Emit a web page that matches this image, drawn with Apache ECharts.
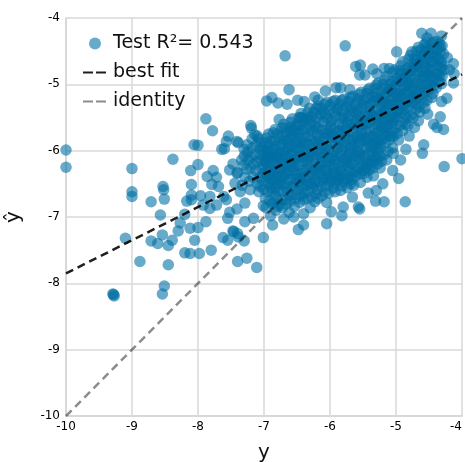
<!DOCTYPE html>
<html><head><meta charset="utf-8">
<style>html,body{margin:0;padding:0;background:#fff}#c{width:465px;height:462px}</style>
<script src="https://cdn.jsdelivr.net/npm/echarts@6/dist/echarts.min.js"></script>
</head><body><div id="c"></div>
<script>
const axisTicks = [-10,-9,-8,-7,-6,-5,-4];
const fitLine = [[-10,-7.85],[-4,-4.85]];
const identityLine = [[-10,-10],[-4,-4]];
const legendNames = ['Test R²= 0.543','best fit','identity'];
const sparsePoints = [
[-10,-5.99],[-10,-6.25],[-9,-6.27],[-9,-6.62],[-9,-6.69],[-8.53,-6.54],[-8.52,-6.59],[-8.51,-6.73],[-8.71,-6.77],[-8.57,-6.97],
[-8.38,-6.13],[-7.88,-5.52],[-7.78,-5.7],[-8.06,-5.91],[-8,-5.92],[-7.64,-5.98],[-7.6,-5.97],[-7.57,-5.86],[-7.54,-5.78],[-7.41,-5.86],
[-8,-6.21],[-8.11,-6.3],[-8.1,-6.51],[-7.86,-6.39],[-7.77,-6.3],[-7.72,-6.4],[-7.79,-6.51],[-7.69,-6.54],[-7.52,-6.29],[-7.47,-6.2],
[-7.4,-6.33],[-7.44,-6.49],[-8.17,-6.76],[-8.1,-6.74],[-8.1,-6.67],[-7.96,-6.68],[-7.82,-6.69],[-7.82,-6.87],[-7.92,-6.82],[-7.72,-6.82],
[-7.57,-6.74],[-7.61,-6.69],[-8.2,-6.96],[-8.27,-7.09],[-8.3,-7.21],[-8.12,-7.17],[-8,-7.16],[-7.88,-7.07],[-7.52,-6.93],[-7.55,-7.02],
[-7.41,-6.88],[-7.47,-7.21],[-7.4,-7.25],[-7.62,-7.31],[-9.1,-7.32],[-8.71,-7.36],[-8.61,-7.4],[-8.54,-7.27],[-8.45,-7.43],[-8.39,-7.35],
[-8.05,-7.35],[-8.2,-7.54],[-8.12,-7.55],[-7.98,-7.55],[-7.8,-7.5],[-8.88,-7.67],[-8.45,-7.72],[-7.4,-7.67],[-7.55,-7.35],[-8.51,-8.04],
[-8.54,-8.16],[-9.29,-8.16],[-9.27,-8.19],[-9.28,-8.17],[-7.11,-7.76],[-7.26,-7.62],[-7.3,-7.36],[-7.39,-7.3],
[-6.68,-4.57],[-5.77,-4.42],[-6.62,-5.08],[-6.07,-5.1],[-5.91,-5.05],[-5.84,-5.05],[-5.7,-5.08],[-6.96,-5.25],[-6.88,-5.2],[-6.79,-5.28],
[-6.65,-5.3],[-6.49,-5.24],[-6.23,-5.19],[-6.18,-5.24],[-6.39,-5.26],[-5.61,-4.73],[-5.54,-4.71],[-5.55,-4.86],[-5.47,-4.86],[-5.35,-4.77],
[-5.29,-4.84],[-5.18,-4.76],[-5.1,-4.76],[-4.99,-4.51],[-4.76,-4.51],[-4.61,-4.23],[-4.47,-4.23],[-4.31,-4.27],[-4.13,-4.69],[-4.19,-4.78],
[-4.13,-4.98],[-4.23,-5.21],[-4.31,-5.26],[-4.33,-5.49],[-4.43,-5.6],[-4.28,-5.68],[-4.38,-5.65],[-4.58,-5.91],[-4.6,-6.04],[-4.27,-6.24],
[-4,-6.12],[-4.86,-6.77],[-4.96,-6.42],[-4.93,-6.14],[-5.18,-6.77],[-5.31,-6.76],[-5.55,-6.88],[-5.57,-6.85],[-5.82,-6.98],[-5.8,-6.85],
[-5.98,-6.92],[-6.05,-7.1],[-6.05,-6.78],[-6.23,-6.77],[-6.4,-6.95],[-6.4,-7.12],[-6.48,-7.19],[-6.87,-7.12],[-7.01,-7.31],[-7.01,-6.83],
[-7.29,-6.79],[-7.29,-7.07],[-7.16,-7.02],[-7.46,-7.22],[-7.2,-5.62],[-7.19,-5.66],[-6.77,-5.53],[-7.39,-5.88],[-7.26,-5.91],[-7.14,-5.76],
[-7.31,-6.22],[-7.41,-6.34],[-7.21,-6.59],[-7.36,-6.62],[-7.29,-6.4],[-7.2,-6.1],[-7.12,-6.3],[-7.25,-6.02],[-7.33,-6.52],[-7.08,-6.62],
[-6.9,-6.98],[-6.82,-6.9],[-6.7,-7.03],[-6.62,-6.93],[-6.55,-7],[-6.3,-6.86],[-5.66,-6.7],[-5.42,-6.64],[-5.3,-6.6],[-5.2,-6.5],
[-5.05,-6.3],[-4.85,-5.98],[-4.8,-5.78],[-4.72,-5.65],[-4.66,-5.55],[-4.52,-5.45],[-4.12,-4.84],[-4.22,-4.6],[-4.37,-4.35],[-4.53,-4.3]
];
const densePoints = [
[-7.08,-5.82],[-7.02,-5.95],[-7.05,-6.06],[-6.98,-6.17],[-7.03,-6.28],[-6.97,-6.4],[-6.93,-5.75],[-6.9,-5.86],[-6.95,-6],[-6.89,-6.1],[-6.92,-6.24],[-6.88,-6.36],[-6.93,-6.5],[-6.87,-6.62],[-6.91,-6.75],
[-6.83,-5.68],[-6.78,-5.8],[-6.82,-5.92],[-6.77,-6.03],[-6.81,-6.15],[-6.76,-6.27],[-6.8,-6.39],[-6.75,-6.5],[-6.79,-6.62],[-6.74,-6.73],
[-6.7,-5.6],[-6.66,-5.72],[-6.69,-5.84],[-6.64,-5.96],[-6.68,-6.08],[-6.63,-6.2],[-6.67,-6.32],[-6.62,-6.44],[-6.66,-6.56],[-6.61,-6.68],
[-6.57,-5.52],[-6.53,-5.64],[-6.56,-5.76],[-6.51,-5.88],[-6.55,-6],[-6.5,-6.12],[-6.54,-6.24],[-6.49,-6.36],[-6.53,-6.48],[-6.48,-6.6],[-6.52,-6.72],
[-6.44,-5.44],[-6.4,-5.56],[-6.43,-5.68],[-6.38,-5.8],[-6.42,-5.92],[-6.37,-6.04],[-6.41,-6.16],[-6.36,-6.28],[-6.4,-6.4],[-6.35,-6.52],[-6.39,-6.64],
[-6.31,-5.36],[-6.27,-5.48],[-6.3,-5.6],[-6.25,-5.72],[-6.29,-5.84],[-6.24,-5.96],[-6.28,-6.08],[-6.23,-6.2],[-6.27,-6.32],[-6.22,-6.44],[-6.26,-6.56],[-6.21,-6.65],
[-6.18,-5.33],[-6.14,-5.45],[-6.17,-5.57],[-6.12,-5.69],[-6.16,-5.81],[-6.11,-5.93],[-6.15,-6.05],[-6.1,-6.17],[-6.14,-6.29],[-6.09,-6.41],[-6.13,-6.53],[-6.08,-6.62],
[-6.05,-5.27],[-6.01,-5.39],[-6.04,-5.51],[-5.99,-5.63],[-6.03,-5.75],[-5.98,-5.87],[-6.02,-5.99],[-5.97,-6.11],[-6.01,-6.23],[-5.96,-6.35],[-6,-6.47],[-5.95,-6.56],
[-5.92,-5.24],[-5.88,-5.36],[-5.91,-5.48],[-5.86,-5.6],[-5.9,-5.72],[-5.85,-5.84],[-5.89,-5.96],[-5.84,-6.08],[-5.88,-6.2],[-5.83,-6.32],[-5.87,-6.44],[-5.82,-6.53],
[-5.79,-5.22],[-5.75,-5.34],[-5.78,-5.46],[-5.73,-5.58],[-5.77,-5.7],[-5.72,-5.82],[-5.76,-5.94],[-5.71,-6.06],[-5.75,-6.18],[-5.7,-6.3],[-5.74,-6.42],[-5.69,-6.5],
[-5.66,-5.18],[-5.62,-5.3],[-5.65,-5.42],[-5.6,-5.54],[-5.64,-5.66],[-5.59,-5.78],[-5.63,-5.9],[-5.58,-6.02],[-5.62,-6.14],[-5.57,-6.26],[-5.61,-6.38],
[-5.53,-5.12],[-5.49,-5.24],[-5.52,-5.36],[-5.47,-5.48],[-5.51,-5.6],[-5.46,-5.72],[-5.5,-5.84],[-5.45,-5.96],[-5.49,-6.08],[-5.44,-6.2],[-5.48,-6.34],
[-5.4,-5.06],[-5.36,-5.18],[-5.39,-5.3],[-5.34,-5.42],[-5.38,-5.54],[-5.33,-5.66],[-5.37,-5.78],[-5.32,-5.9],[-5.36,-6.02],[-5.31,-6.14],[-5.35,-6.26],
[-5.27,-4.98],[-5.23,-5.1],[-5.26,-5.22],[-5.21,-5.34],[-5.25,-5.46],[-5.2,-5.58],[-5.24,-5.7],[-5.19,-5.82],[-5.23,-5.94],[-5.18,-6.06],[-5.22,-6.16],
[-5.14,-4.88],[-5.1,-5],[-5.13,-5.12],[-5.08,-5.24],[-5.12,-5.36],[-5.07,-5.48],[-5.11,-5.6],[-5.06,-5.72],[-5.1,-5.84],[-5.05,-5.96],
[-5.02,-4.78],[-4.98,-4.9],[-5.01,-5.02],[-4.96,-5.14],[-5,-5.26],[-4.95,-5.38],[-4.99,-5.5],[-4.94,-5.62],[-4.98,-5.74],
[-4.9,-4.66],[-4.86,-4.78],[-4.89,-4.9],[-4.84,-5.02],[-4.88,-5.14],[-4.83,-5.26],[-4.87,-5.38],[-4.82,-5.5],[-4.86,-5.6],
[-4.78,-4.56],[-4.74,-4.68],[-4.77,-4.8],[-4.72,-4.92],[-4.76,-5.04],[-4.71,-5.16],[-4.75,-5.28],[-4.7,-5.38],
[-4.66,-4.44],[-4.62,-4.56],[-4.65,-4.68],[-4.6,-4.8],[-4.64,-4.92],[-4.59,-5.04],[-4.63,-5.16],[-4.58,-5.28],
[-4.54,-4.37],[-4.5,-4.49],[-4.53,-4.61],[-4.48,-4.73],[-4.52,-4.85],[-4.47,-4.97],[-4.51,-5.09],[-4.46,-5.2],
[-4.42,-4.36],[-4.38,-4.48],[-4.41,-4.6],[-4.36,-4.72],[-4.4,-4.84],[-4.35,-4.96],[-4.39,-5.05],
[-4.3,-4.42],[-4.28,-4.54],[-4.31,-4.66],[-4.27,-4.78],[-4.3,-4.88],
[-7.18,-5.96],[-7.14,-6.06],[-7.1,-6.16],[-7.16,-6.2],[-7.12,-5.92],[-7.06,-6.4],[-7.3,-6.08],[-7.34,-6.14]
];
const denseMidPoints = [
[-7.04,-5.88],[-7,-6.01],[-6.99,-6.11],[-7.01,-6.22],[-7,-6.34],[-6.96,-5.81],[-6.94,-6.06],[-6.96,-6.18],[-6.95,-6.3],[-6.9,-6.44],[-6.9,-6.56],
[-6.86,-5.73],[-6.84,-5.86],[-6.85,-5.98],[-6.84,-6.09],[-6.86,-6.21],[-6.84,-6.33],[-6.85,-6.45],[-6.83,-6.56],[-6.83,-6.68],
[-6.73,-5.66],[-6.72,-5.77],[-6.74,-5.9],[-6.71,-6.02],[-6.73,-6.14],[-6.7,-6.26],[-6.72,-6.38],[-6.7,-6.5],[-6.72,-6.62],[-6.68,-6.74],
[-6.6,-5.57],[-6.6,-5.7],[-6.62,-5.82],[-6.58,-5.94],[-6.61,-6.06],[-6.57,-6.18],[-6.6,-6.3],[-6.56,-6.42],[-6.59,-6.54],[-6.56,-6.66],
[-6.47,-5.5],[-6.46,-5.62],[-6.49,-5.74],[-6.45,-5.86],[-6.48,-5.98],[-6.44,-6.1],[-6.47,-6.22],[-6.43,-6.34],[-6.46,-6.46],[-6.42,-6.58],[-6.45,-6.68],
[-6.34,-5.42],[-6.33,-5.54],[-6.36,-5.66],[-6.32,-5.78],[-6.35,-5.9],[-6.31,-6.02],[-6.34,-6.14],[-6.3,-6.26],[-6.33,-6.38],[-6.29,-6.5],[-6.32,-6.62],
[-6.21,-5.36],[-6.2,-5.51],[-6.23,-5.63],[-6.19,-5.75],[-6.22,-5.87],[-6.18,-5.99],[-6.21,-6.11],[-6.17,-6.23],[-6.2,-6.35],[-6.16,-6.47],[-6.19,-6.59],
[-6.08,-5.3],[-6.07,-5.45],[-6.1,-5.57],[-6.06,-5.69],[-6.09,-5.81],[-6.05,-5.93],[-6.08,-6.05],[-6.04,-6.17],[-6.07,-6.29],[-6.03,-6.41],[-6.06,-6.53],
[-5.95,-5.26],[-5.94,-5.42],[-5.97,-5.54],[-5.93,-5.66],[-5.96,-5.78],[-5.92,-5.9],[-5.95,-6.02],[-5.91,-6.14],[-5.94,-6.26],[-5.9,-6.38],[-5.93,-6.5],
[-5.82,-5.24],[-5.81,-5.39],[-5.84,-5.51],[-5.8,-5.63],[-5.83,-5.75],[-5.79,-5.87],[-5.82,-5.99],[-5.78,-6.11],[-5.81,-6.23],[-5.77,-6.35],[-5.8,-6.47],
[-5.69,-5.2],[-5.68,-5.36],[-5.71,-5.48],[-5.67,-5.6],[-5.7,-5.72],[-5.66,-5.84],[-5.69,-5.96],[-5.65,-6.08],[-5.68,-6.2],[-5.64,-6.32],[-5.67,-6.44],
[-5.56,-5.15],[-5.55,-5.27],[-5.58,-5.39],[-5.54,-5.51],[-5.57,-5.63],[-5.53,-5.75],[-5.56,-5.87],[-5.52,-5.99],[-5.55,-6.11],[-5.51,-6.23],[-5.54,-6.35],
[-5.43,-5.09],[-5.42,-5.21],[-5.45,-5.33],[-5.41,-5.45],[-5.44,-5.57],[-5.4,-5.69],[-5.43,-5.81],[-5.39,-5.93],[-5.42,-6.05],[-5.38,-6.17],[-5.41,-6.29],
[-5.3,-5.01],[-5.29,-5.13],[-5.32,-5.25],[-5.28,-5.37],[-5.31,-5.49],[-5.27,-5.61],[-5.3,-5.73],[-5.26,-5.85],[-5.29,-5.97],[-5.25,-6.09],[-5.28,-6.2],
[-5.17,-4.93],[-5.16,-5.05],[-5.19,-5.17],[-5.15,-5.29],[-5.18,-5.41],[-5.14,-5.53],[-5.17,-5.65],[-5.13,-5.77],[-5.16,-5.89],[-5.12,-6.01],
[-5.05,-4.82],[-5.04,-4.95],[-5.07,-5.07],[-5.03,-5.19],[-5.06,-5.31],[-5.02,-5.43],[-5.05,-5.55],[-5.01,-5.67],[-5.04,-5.79],
[-4.93,-4.72],[-4.92,-4.84],[-4.95,-4.96],[-4.91,-5.08],[-4.94,-5.2],[-4.9,-5.32],[-4.93,-5.44],[-4.89,-5.56],
[-4.81,-4.62],[-4.8,-4.74],[-4.83,-4.86],[-4.79,-4.98],[-4.82,-5.1],[-4.78,-5.22],[-4.81,-5.34],[-4.77,-5.46],
[-4.69,-4.5],[-4.68,-4.62],[-4.71,-4.74],[-4.67,-4.86],[-4.7,-4.98],[-4.66,-5.1],[-4.69,-5.22],[-4.65,-5.34],
[-4.57,-4.4],[-4.56,-4.52],[-4.59,-4.64],[-4.55,-4.76],[-4.58,-4.88],[-4.54,-5],[-4.57,-5.12],[-4.53,-5.24],
[-4.46,-4.38],[-4.45,-4.54],[-4.47,-4.66],[-4.44,-4.78],[-4.46,-4.9],[-4.43,-5.02],[-4.44,-5.14],
[-4.34,-4.39],[-4.33,-4.51],[-4.35,-4.63],[-4.32,-4.75],[-4.34,-4.87],[-4.31,-4.99]
];
const denseCorePoints = [
[-6.9,-6.02],[-6.82,-6.06],[-6.74,-6.18],[-6.68,-6.01],[-6.6,-6.14],[-6.52,-5.95],[-6.46,-6.07],[-6.4,-5.88],[-6.33,-6.2],[-6.26,-5.9],[-6.2,-6.06],[-6.13,-5.85],
[-6.07,-5.98],[-6,-5.7],[-5.95,-6.08],[-5.89,-5.82],[-5.82,-5.93],[-5.76,-5.66],[-5.7,-6.02],[-5.64,-5.8],[-5.58,-5.94],[-5.52,-5.7],[-5.46,-5.84],[-5.4,-5.58],
[-5.34,-5.8],[-5.28,-5.52],[-5.22,-5.66],[-5.16,-5.44],[-5.1,-5.52],[-5.04,-5.32],[-4.98,-5.42],[-4.92,-5.16],[-4.86,-5.3],[-4.8,-5],[-4.74,-5.2],[-4.68,-4.8],
[-4.62,-5],[-4.56,-4.7],[-4.5,-4.88],[-4.44,-4.66],[-6.55,-6.3],[-6.45,-6.42],[-6.35,-6.1],[-6.25,-6.36],[-6.15,-6.2],[-6.05,-6.3],[-5.95,-6.2],[-5.85,-6.3],
[-5.75,-6.1],[-5.65,-6.2],[-5.55,-6.05],[-5.45,-6.14],[-5.35,-5.95],[-5.25,-5.9],[-5.15,-5.72],[-5.05,-5.6],[-6.5,-5.6],[-6.4,-5.72],[-6.3,-5.5],[-6.2,-5.66],
[-6.1,-5.42],[-6,-5.56],[-5.9,-5.38],[-5.8,-5.5],[-5.7,-5.34],[-5.6,-5.44],[-5.5,-5.3],[-5.4,-5.4],[-5.3,-5.2],[-5.2,-5.26],[-5.1,-5.08],[-5,-5.14],[-4.9,-4.94],
[-4.8,-4.9],[-4.7,-4.7],[-4.6,-4.6],[-4.5,-4.54],[-6.75,-5.95],[-6.65,-5.85],[-6.55,-5.8],[-6.45,-5.5],[-6.65,-6.35],[-6.75,-6.45],[-6.85,-6.3],[-6.55,-6.55],
[-6.3,-6.5],[-6.1,-6.45],[-5.9,-6.45],[-5.7,-6.4],[-5.5,-6.3],[-5.3,-6.1],[-6.95,-6.12],[-7.05,-6.14],[-6.8,-5.75],[-6.6,-5.65]
];
const denseFillPoints = [
[-7.3,-5.98],[-7.24,-6.14],[-7.26,-6.28],[-7.18,-5.82],[-7.2,-6.26],[-7.16,-6.4],[-7.22,-6.46],[-7.1,-6.5],[-7.06,-6.54],[-7.1,-5.78],[-7.06,-5.98],
[-7.02,-6.46],[-7,-6.58],[-6.98,-6.72],[-6.95,-6.62],[-6.97,-6.86],[-6.88,-6.8],[-6.84,-6.78],[-6.8,-6.84],[-6.76,-6.82],[-6.72,-6.86],[-6.66,-6.8],[-6.6,-6.76],[-6.54,-6.84],[-6.46,-6.78],[-6.4,-6.74],[-6.34,-6.72],[-6.28,-6.7],[-6.18,-6.72],[-6.12,-6.68],[-6.02,-6.64],[-5.92,-6.62],[-5.84,-6.6],[-5.74,-6.56],[-5.64,-6.52],[-5.54,-6.48],[-5.44,-6.4],[-5.34,-6.38],[-5.24,-6.26],[-5.14,-6.14],[-5.04,-6.04],[-4.96,-5.84],[-4.9,-5.7],[-4.82,-5.62],[-4.74,-5.5],[-4.64,-5.42],[-4.56,-5.36],
[-6.92,-5.92],[-6.87,-6.18],[-6.8,-6.1],[-6.78,-6.32],[-6.7,-6.2],[-6.65,-6.1],[-6.62,-5.9],[-6.58,-6.24],[-6.52,-6.08],[-6.48,-5.8],[-6.42,-6.28],[-6.38,-5.98],[-6.32,-6.08],[-6.28,-5.68],[-6.22,-6.28],[-6.18,-5.9],[-6.12,-6.1],[-6.08,-5.74],[-6.02,-6.12],[-5.98,-5.8],[-5.94,-6.34],[-5.88,-6.04],[-5.86,-5.7],[-5.8,-6.16],[-5.78,-5.78],[-5.72,-5.52],[-5.72,-6.24],[-5.66,-5.92],[-5.62,-5.6],[-5.6,-6.08],[-5.56,-5.46],[-5.54,-5.8],[-5.5,-6.2],[-5.46,-5.6],[-5.42,-5.88],[-5.38,-5.46],[-5.36,-6.1],[-5.34,-5.26],[-5.3,-5.82],[-5.26,-5.58],[-5.24,-5.3],[-5.2,-5.76],[-5.2,-5.46],[-5.16,-5.18],[-5.14,-5.62],[-5.1,-5.3],[-5.08,-5.78],[-5.06,-5.1],[-5.02,-5.5],[-5,-4.96],[-4.98,-5.2],[-4.94,-4.8],[-4.93,-5.3],[-4.88,-5.02],[-4.86,-5.46],[-4.84,-4.84],[-4.8,-5.16],[-4.76,-4.76],[-4.74,-5.1],[-4.72,-4.62],[-4.7,-5.3],[-4.66,-4.74],[-4.64,-5.06],[-4.62,-4.48],[-4.6,-5.2],[-4.56,-4.9],[-4.54,-4.46],[-4.5,-4.78],[-4.48,-5.02],[-4.44,-4.46],[-4.42,-4.92],[-4.38,-4.58],[-4.36,-4.84],[-4.33,-4.44],[-4.3,-4.72],
[-6.98,-5.88],[-6.94,-6.36],[-6.88,-6.5],[-6.8,-6.5],[-6.7,-6.4],[-6.64,-6.62],[-6.5,-6.42],[-6.44,-6.52],[-6.36,-6.44],[-6.24,-6.5],[-6.14,-6.36],[-6.02,-6.36],[-5.98,-6.46],[-5.86,-6.38],[-5.78,-6.44],[-5.6,-6.32],[-5.46,-6.26],[-5.38,-6.22],[-5.27,-6.02],[-6.68,-5.66],[-6.54,-5.7],[-6.42,-5.5],[-6.36,-5.52],[-6.24,-5.42],[-6.14,-5.36],[-6,-5.32],[-5.86,-5.3],[-5.72,-5.26],[-5.58,-5.22],[-5.44,-5.14],[-5.32,-5.06],[-5.2,-5]
];
const pointColor = 'rgba(0,112,163,0.74)';
const gridColor = '#d8d8d8';
const fontFamily = '"DejaVu Sans",sans-serif';
const labelFont = {color:'#000',fontFamily,fontSize:12};
function axis(name, extra){
  return Object.assign({
    type:'value',min:-10,max:-4,interval:1,name,nameLocation:'middle',
    nameTextStyle:{color:'#111',fontFamily,fontSize:20},
    axisLine:{show:true,onZero:false,lineStyle:{color:gridColor,width:2}},
    axisTick:{show:false},
    splitLine:{show:true,lineStyle:{color:gridColor,width:1.5}}
  },extra);
}
const hideMarker = {color:'transparent',borderWidth:0,opacity:0};
const chart = echarts.init(document.getElementById('c'),null,{renderer:'canvas'});
chart.setOption({
  animation:false,
  backgroundColor:'#fff',
  grid:{left:66,right:3,top:18,bottom:46,outerBoundsMode:'none'},
  xAxis:axis('y',{nameGap:27,axisLabel:Object.assign({margin:5,alignMaxLabel:'right'},labelFont)}),
  yAxis:axis('ŷ',{nameGap:42,axisLabel:Object.assign({margin:6},labelFont)}),
  legend:{
    left:77,top:29,orient:'vertical',itemWidth:24,itemHeight:12,itemGap:10,
    textStyle:{color:'#111',fontFamily,fontSize:19,padding:[0,0,0,1]},
    data:[
      {name:legendNames[0],icon:'circle'},
      {name:legendNames[1],itemStyle:hideMarker,lineStyle:{type:[10,3]}},
      {name:legendNames[2],itemStyle:hideMarker,lineStyle:{type:[10,3]}}
    ]
  },
  series:[
    {name:legendNames[0],type:'scatter',symbolSize:11.5,itemStyle:{color:pointColor},clip:false,large:false,data:sparsePoints.concat(densePoints,denseMidPoints,denseCorePoints,denseFillPoints)},
    {name:legendNames[1],type:'line',showSymbol:false,symbol:'none',lineStyle:{color:'rgba(0,0,0,0.88)',width:2.5,type:[8,5]},itemStyle:{color:'rgba(0,0,0,0.88)'},data:fitLine},
    {name:legendNames[2],type:'line',showSymbol:false,symbol:'none',lineStyle:{color:'rgba(0,0,0,0.45)',width:2.5,type:[8,5]},itemStyle:{color:'rgba(0,0,0,0.45)'},data:identityLine}
  ]
});
</script></body></html>
